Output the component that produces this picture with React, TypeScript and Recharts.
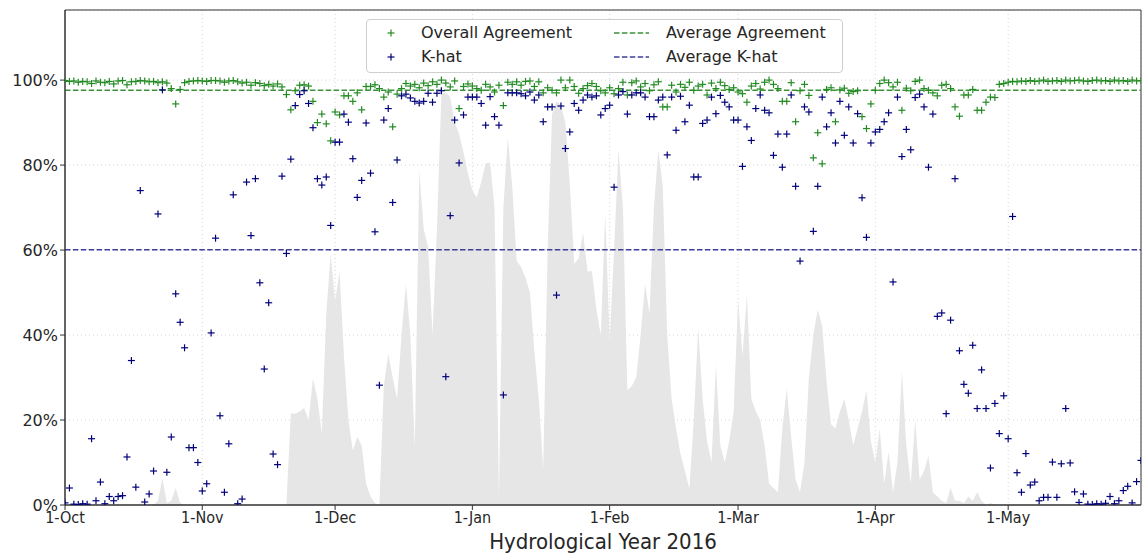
import {
  ComposedChart,
  Area,
  Scatter,
  XAxis,
  YAxis,
  CartesianGrid,
  ReferenceLine,
  ReferenceArea,
  Legend,
  Label,
} from "recharts";

// x positions are days since 1-Oct (2016 hydrological year, leap Feb)
const monthTicks = [0, 31, 61, 92, 123, 152, 183, 213];
const monthLabels = ["1-Oct", "1-Nov", "1-Dec", "1-Jan", "1-Feb", "1-Mar", "1-Apr", "1-May"];
const yTicks = [0, 20, 40, 60, 80, 100];

// daily overall agreement (%)
const agreement = [
  99.9, 99.7, 99.8, 99.5, 99.7, 99.6, 99.2, 99.8, 99.5, 99.4,
  99.7, 99.1, 99.8, 99.9, 98.9, 99.6, 99.7, 99.9, 99.8, 99.6,
  99.7, 99.4, 99.6, 99.3, 98.0, 94.4, 97.8, 99.4, 99.7, 99.8,
  99.9, 99.8, 99.7, 99.9, 99.9, 99.8, 99.5, 99.8, 99.9, 99.6,
  99.3, 99.5, 98.8, 99.4, 99.2, 98.7, 99.0, 98.6, 99.1, 98.4,
  96.6, 93.0, 97.5, 98.8, 98.9, 98.6, 95.0, 90.0, 92.0, 89.7,
  85.7, 92.5, 91.8, 96.3, 96.3, 95.0, 97.0, 93.0, 98.5, 98.5,
  98.9, 98.0, 96.0, 97.2, 89.0, 96.7, 98.0, 99.2, 98.6, 99.0,
  98.2, 99.3, 98.7, 99.6, 99.0, 100.0, 99.3, 98.4, 99.8, 93.3,
  98.5, 99.1, 98.6, 98.0, 97.6, 99.0, 98.4, 97.2, 98.8, 94.0,
  99.5, 99.0, 99.6, 98.8, 99.7, 99.8, 98.5, 99.6, 97.0, 98.2,
  97.6, 97.0, 100.0, 98.2, 100.0, 98.5, 96.9, 98.0, 98.7, 99.2,
  98.5, 97.5, 97.0, 98.2, 96.8, 98.0, 99.5, 96.5, 99.4, 99.8,
  98.4, 99.2, 97.5, 98.9, 99.6, 93.7, 93.7, 98.8, 97.2, 99.0,
  98.3, 99.5, 97.6, 98.6, 99.0, 96.5, 99.3, 98.0, 99.5, 98.7,
  97.8, 98.2, 97.2, 96.8, 94.8, 98.6, 99.2, 97.9, 99.5, 100.0,
  99.0, 98.0, 95.0, 95.0, 99.4, 90.2, 97.5, 99.0, 96.4, 81.7,
  87.6, 80.3, 97.8, 98.2, 90.2, 97.7, 98.1, 96.9, 97.3, 97.5,
  91.4, 88.6, 94.4, 97.6, 99.2, 100.0, 99.4, 98.4, 99.5, 92.9,
  98.1, 97.5, 99.7, 100.0, 98.0, 97.6, 97.0, 96.3, 98.8, 99.0,
  98.0, 93.7, 91.5, 96.5, 96.5, 97.8, 92.9, 92.9, 94.8, 96.0,
  95.9, 99.0, 99.2, 99.5, 99.7, 99.6, 99.8, 99.7, 99.9, 99.7,
  99.8, 100.0, 99.7, 99.8, 99.9, 99.7, 100.0, 99.8, 99.9, 100.0,
  99.8, 99.7, 99.9, 100.0, 99.8, 99.9, 99.7, 100.0, 99.8, 99.9,
  99.7, 100.0, 99.8, 99.9,
];

// daily K-hat (%)
const kHat = [
  0.5, 4.0, 0.2, 0.1, 0.3, 0.2, 15.6, 1.0, 5.4, 0.3,
  2.0, 1.0, 2.0, 2.2, 11.3, 34.0, 4.2, 74.0, 0.7, 2.6,
  8.0, 68.5, 97.7, 7.7, 16.0, 49.7, 43.0, 37.0, 13.5, 13.5,
  10.0, 3.3, 5.0, 40.5, 62.8, 21.0, 3.0, 14.4, 73.0, 0.3,
  1.4, 76.0, 63.4, 76.8, 52.3, 32.0, 47.6, 12.0, 9.5, 77.4,
  59.2, 81.4, 94.0, 96.6, 97.5, 94.5, 88.8, 76.8, 75.3, 77.2,
  65.8, 85.4, 85.4, 92.0, 90.1, 81.5, 72.4, 76.4, 89.9, 78.1,
  64.3, 28.2, 90.6, 93.3, 71.2, 81.2, 96.3, 96.7, 95.8, 95.0,
  94.6, 95.0, 96.9, 94.8, 96.9, 97.5, 30.2, 68.1, 90.6, 80.5,
  91.8, 96.0, 96.0, 96.0, 94.5, 89.4, 96.1, 91.4, 89.4, 25.9,
  97.0, 97.0, 97.0, 96.8, 96.3, 97.2, 95.3, 96.5, 90.2, 93.7,
  93.7, 49.4, 93.9, 83.9, 87.8, 94.5, 92.9, 95.3, 96.5, 96.0,
  96.3, 91.8, 93.3, 94.1, 74.8, 96.5, 97.3, 92.0, 96.5, 97.0,
  97.0, 96.0, 91.4, 91.4, 95.3, 96.0, 82.4, 96.0, 88.2, 96.2,
  90.2, 94.1, 77.2, 77.2, 89.8, 90.6, 96.0, 92.1, 96.4, 94.8,
  93.7, 90.6, 90.6, 79.7, 89.0, 85.8, 93.3, 96.5, 92.9, 92.3,
  82.3, 87.3, 79.5, 87.3, 96.5, 75.0, 57.4, 93.7, 92.5, 64.4,
  75.0, 96.0, 89.0, 92.3, 85.2, 95.0, 87.0, 93.7, 85.2, 92.1,
  72.3, 63.0, 85.2, 87.8, 88.4, 90.2, 92.3, 52.5, 96.0, 82.0,
  88.4, 83.6, 95.9, 96.7, 93.7, 79.5, 92.0, 44.4, 45.2, 21.5,
  43.5, 76.8, 36.3, 28.4, 26.3, 37.6, 22.7, 31.8, 22.7, 8.7,
  23.9, 16.8, 25.7, 15.6, 67.9, 7.6, 3.0, 12.1, 4.7, 5.4,
  1.0, 1.8, 1.8, 10.1, 1.8, 9.7, 22.7, 9.9, 3.1, 0.6,
  2.6, 0.2, 0.1, 0.3, 0.2, 0.4, 2.0, 0.3, 1.0, 3.4,
  4.4, 0.5, 5.5, 10.5,
];

// daily background cover (%), grey shading
const cover = [
  0, 0, 0, 0, 0, 0, 0, 0, 0, 0,
  0, 0, 0, 0, 0, 0, 0, 0, 0, 0,
  0, 1, 6.3, 0.5, 1, 4, 0.5, 0, 0, 0,
  0, 0, 0, 0, 0, 0, 0, 0, 0, 0,
  0, 0, 0, 0, 0, 0, 0, 0, 0, 0,
  0, 21.6, 21.5, 22, 22.8, 20, 29.8, 25, 16.9, 45,
  59, 48, 55, 35, 20, 12.8, 16, 14, 5, 2,
  0.5, 0, 28, 35.6, 30, 25, 40, 52, 40, 13.5,
  78.8, 65, 60.7, 40, 65, 96.8, 97, 96, 90, 87.4,
  83, 78, 74, 72.4, 76, 80.4, 80.6, 70, 2, 70,
  86.5, 75, 57.5, 56, 53.5, 50, 36, 25, 8.5, 60,
  92, 95, 94, 90, 75.6, 56.8, 58, 64, 55, 55,
  46, 40, 68.5, 38.6, 60, 83.6, 70, 27, 28, 30,
  40, 52, 45, 70, 83.6, 75, 40, 25, 18, 12,
  8, 3.8, 20, 41.7, 25, 15, 10, 33, 14, 10,
  15, 22, 48, 35, 49.5, 25, 22, 20, 14, 5,
  4, 3, 18, 27.5, 16, 6, 3, 10, 30, 40,
  46, 42, 29, 19, 18, 22, 25, 20, 14, 18,
  22, 27, 15, 10, 18, 5, 12.5, 3, 10, 31.5,
  14, 5, 20, 6, 8, 11.6, 3, 2, 1, 0.5,
  4, 1, 1, 0.5, 2, 1, 3, 1, 0, 0.5,
  0, 0, 0, 0, 0, 0, 0, 0, 0, 0,
  0, 0, 0, 0, 0, 0, 0, 0, 0, 0,
  0, 0, 0, 0, 0, 0, 0, 0, 0, 0,
  0, 0, 0, 0,
];

const avgAgreement = 97.6;
const avgKHat = 60.1;

const data = agreement.map((a, i) => ({
  day: i,
  agreement: a,
  kHat: kHat[i],
  cover: cover[i],
}));

const GREEN = "#228b22";
const NAVY = "#00007a";
const GREEN_DASH = "#3a913a";
const NAVY_DASH = "#3f3f99";
const TEXT = "#262626";
const AXIS = "#333333";
const CONDENSED = "'DejaVu Sans Condensed', 'DejaVu Sans', sans-serif";

const plus = (color: string) => (props: any) => {
  const { cx, cy } = props;
  if (cx == null || cy == null) return <g />;
  return (
    <g stroke={color} strokeWidth={1.2}>
      <line x1={cx - 3.5} y1={cy} x2={cx + 3.5} y2={cy} />
      <line x1={cx} y1={cy - 3.5} x2={cx} y2={cy + 3.5} />
    </g>
  );
};

const legendEntries = [
  { label: "Overall Agreement", color: GREEN, dashed: false },
  { label: "K-hat", color: NAVY, dashed: false },
  { label: "Average Agreement", color: GREEN_DASH, dashed: true },
  { label: "Average K-hat", color: NAVY_DASH, dashed: true },
];

function ChartLegend() {
  return (
    <div
      style={{
        position: "relative",
        width: 477,
        height: 54,
        boxSizing: "border-box",
        border: "1px solid #cfcfcf",
        borderRadius: 4,
        background: "rgba(255,255,255,0.85)",
        fontFamily: "'DejaVu Sans', sans-serif",
        fontSize: 16,
        color: TEXT,
      }}
    >
      {legendEntries.map((e, i) => {
        const col = i < 2 ? 0 : 1;
        const row = i % 2;
        const cy = row === 0 ? 13 : 37;
        const left = col === 0 ? 0 : 230;
        return (
          <div key={e.label} style={{ position: "absolute", left, top: cy - 10, height: 20, display: "flex", alignItems: "center" }}>
            <svg width={60} height={20} style={{ display: "block" }}>
              {e.dashed ? (
                <line x1={17} y1={10} x2={52} y2={10} stroke={e.color} strokeWidth={1.5} strokeDasharray="5.5 2.4" />
              ) : (
                <g stroke={e.color} strokeWidth={1.2}>
                  <line x1={20.5} y1={10} x2={27.5} y2={10} />
                  <line x1={24} y1={6.5} x2={24} y2={13.5} />
                </g>
              )}
            </svg>
            <span style={{ marginLeft: col === 0 ? -6 : 9, lineHeight: "20px", whiteSpace: "nowrap" }}>{e.label}</span>
          </div>
        );
      })}
    </div>
  );
}

export default function App() {
  return (
    <div style={{ position: "absolute", left: 0, top: 0, background: "#fff" }}>
      <ComposedChart width={1142} height={557} data={data} margin={{ top: 10, right: 1, bottom: 0, left: 0 }}>
        <CartesianGrid stroke="#d4d4d4" strokeDasharray="1 3" />
        <XAxis
          dataKey="day"
          type="number"
          domain={[0, 243]}
          ticks={monthTicks}
          interval={0}
          allowDataOverflow
          height={52}
          tickSize={5}
          tickMargin={2}
          tickFormatter={(v: number) => monthLabels[monthTicks.indexOf(v)] ?? ""}
          axisLine={{ stroke: AXIS }}
          tickLine={{ stroke: AXIS }}
          tick={{ fill: TEXT, fontSize: 16, fontFamily: CONDENSED, style: { fontStretch: "condensed" } }}
        >
          <Label
            value="Hydrological Year 2016"
            position="insideBottom"
            offset={8}
            style={{ fill: TEXT, fontSize: 22, fontFamily: CONDENSED, fontStretch: "condensed" }}
          />
        </XAxis>
        <YAxis
          type="number"
          domain={[0, 116.5]}
          ticks={yTicks}
          allowDataOverflow
          width={65}
          tickSize={5}
          tickMargin={2}
          tickFormatter={(v: number) => `${v}%`}
          axisLine={{ stroke: AXIS }}
          tickLine={{ stroke: AXIS }}
          tick={{ fill: TEXT, fontSize: 16, fontFamily: "'DejaVu Sans', sans-serif" }}
        />
        <Area
          type="linear"
          dataKey="cover"
          stroke="none"
          fill="#e6e6e6"
          fillOpacity={1}
          dot={false}
          activeDot={false}
          isAnimationActive={false}
          legendType="none"
        />
        <Scatter dataKey="agreement" shape={plus(GREEN)} isAnimationActive={false} />
        <Scatter dataKey="kHat" shape={plus(NAVY)} isAnimationActive={false} />
        <ReferenceLine y={avgAgreement} stroke={GREEN_DASH} strokeWidth={1.5} strokeDasharray="5.5 2.4" />
        <ReferenceLine y={avgKHat} stroke={NAVY_DASH} strokeWidth={1.5} strokeDasharray="5.5 2.4" />
        <ReferenceArea x1={0} x2={243} y1={0} y2={116.5} fill="none" stroke={AXIS} strokeWidth={1} />
        <Legend
          layout="horizontal"
          verticalAlign="middle"
          align="center"
          content={() => <ChartLegend />}
          wrapperStyle={{ left: 366, top: 19, width: 477, height: 54 }}
        />
      </ComposedChart>
    </div>
  );
}
